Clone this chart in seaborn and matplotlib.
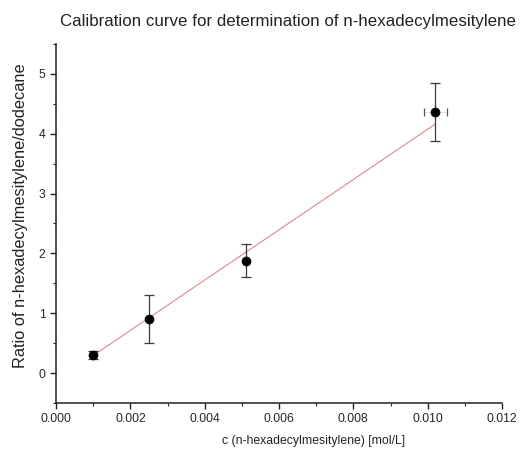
import matplotlib
matplotlib.use("Agg")
import matplotlib.pyplot as plt
from matplotlib.ticker import MultipleLocator
import numpy as np
import pandas as pd
import seaborn as sns

# calibration data
conc = [0.00100, 0.00250, 0.00510, 0.01020]       # mol/L
ratio = [0.30, 0.90, 1.88, 4.36]                  # n-hexadecylmesitylene / dodecane
ratio_err = [0.07, 0.40, 0.27, 0.485]
conc_err = [0.0, 0.0, 0.0, 0.00031]

title = "Calibration curve for determination of n-hexadecylmesitylene"
xlabel = "c (n-hexadecylmesitylene) [mol/L]"
ylabel = "Ratio of n-hexadecylmesitylene/dodecane"

sns.set_style("ticks")
plt.rcParams["font.family"] = ["Liberation Sans", "DejaVu Sans"]

df = pd.DataFrame({"c": conc, "ratio": ratio})

# weighted linear fit (1/sigma weights)
slope, intercept = np.polyfit(conc, ratio, 1, w=1 / np.array(ratio_err))
fit_x = np.array([min(conc), max(conc)])
fit_df = pd.DataFrame({"c": fit_x, "ratio": slope * fit_x + intercept})

fig = plt.figure(figsize=(5.24, 4.57), dpi=100)
ax = fig.add_axes([0.107, 0.118, 0.851, 0.786])

sns.lineplot(data=fit_df, x="c", y="ratio", ax=ax, color="#d9898f", linewidth=0.8, zorder=2)
# x error bars are drawn very faintly in the original, only the caps show
xe = ax.errorbar(conc, ratio, xerr=conc_err, fmt="none", ecolor="#dddddd",
                 elinewidth=0.6, capsize=3, capthick=0.9, zorder=3)
for cap in xe[1]:
    cap.set_markeredgecolor("#555555")
ax.errorbar(conc, ratio, yerr=ratio_err, fmt="none", ecolor="#3a3a3a",
            elinewidth=0.9, capsize=3.5, capthick=0.9, zorder=3)
sns.scatterplot(data=df, x="c", y="ratio", ax=ax, color="black", s=42, edgecolor="black", zorder=4)

ax.set_xlim(0, 0.012)
ax.xaxis.set_minor_locator(MultipleLocator(0.001))
ax.yaxis.set_minor_locator(MultipleLocator(0.5))
ax.set_xticks(np.arange(0, 0.0121, 0.002))
ax.set_xticklabels([f"{v:.3f}" for v in np.arange(0, 0.0121, 0.002)])
ax.set_yticks(range(0, 6))
ax.set_ylim(-0.5, 5.5)

ax.tick_params(which="major", direction="out", length=4, width=1, labelsize=8.7, color="#222222")
ax.tick_params(which="minor", direction="out", length=2.5, width=0.8, color="#222222")
for s in ["top", "right"]:
    ax.spines[s].set_visible(False)
for s in ["left", "bottom"]:
    ax.spines[s].set_linewidth(1.1)
    ax.spines[s].set_color("#222222")

ax.set_xlabel(xlabel, fontsize=8.8, color="#222222")
ax.set_ylabel(ylabel, fontsize=11.8, color="#222222")
ax.xaxis.set_label_coords(0.578, -0.09)
ax.yaxis.set_label_coords(-0.063, 0.521)
fig.text(0.549, 0.953, title, fontsize=12.2, ha="center", va="center", color="#222222")

fig.savefig("out.png", dpi=100)
